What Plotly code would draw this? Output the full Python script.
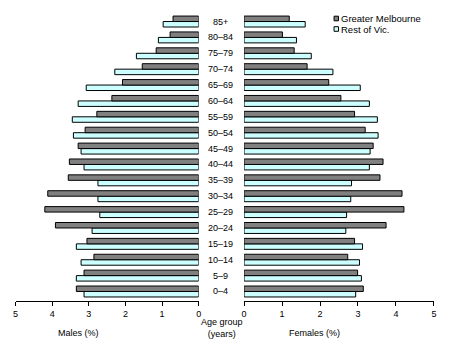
import plotly.graph_objects as go

age_groups = ["0–4", "5–9", "10–14", "15–19", "20–24", "25–29", "30–34", "35–39",
              "40–44", "45–49", "50–54", "55–59", "60–64", "65–69", "70–74",
              "75–79", "80–84", "85+"]

males_melb = [3.34, 3.13, 2.86, 3.05, 3.91, 4.20, 4.12, 3.56, 3.53, 3.29,
              3.10, 2.78, 2.37, 2.08, 1.54, 1.16, 0.78, 0.70]
males_rest = [3.13, 3.34, 3.21, 3.34, 2.91, 2.70, 2.75, 2.75, 3.13, 3.21,
              3.42, 3.45, 3.29, 3.07, 2.29, 1.70, 1.10, 0.97]
females_melb = [3.14, 2.99, 2.73, 2.91, 3.74, 4.21, 4.16, 3.58, 3.66, 3.40,
                3.19, 2.91, 2.55, 2.23, 1.66, 1.32, 1.01, 1.19]
females_rest = [2.94, 3.09, 3.04, 3.12, 2.68, 2.70, 2.81, 2.83, 3.30, 3.32,
                3.53, 3.51, 3.30, 3.06, 2.34, 1.77, 1.38, 1.61]

series_names = ["Greater Melbourne", "Rest of Vic."]
tick_vals = [0, 1, 2, 3, 4, 5]

DARK = "#808080"
LIGHT = "#ccffff"
FONT = "Liberation Sans, Arial, sans-serif"

ypos = list(range(len(age_groups)))

fig = go.Figure()
line = dict(color="black", width=1)

# Rest of Vic first so it sits below Greater Melbourne within each group
fig.add_trace(go.Bar(y=ypos, x=males_rest, orientation="h", marker=dict(color=LIGHT, line=line),
                     name=series_names[1], xaxis="x", yaxis="y", showlegend=False))
fig.add_trace(go.Bar(y=ypos, x=males_melb, orientation="h", marker=dict(color=DARK, line=line),
                     name=series_names[0], xaxis="x", yaxis="y", showlegend=False))
fig.add_trace(go.Bar(y=ypos, x=females_rest, orientation="h", marker=dict(color=LIGHT, line=line),
                     name=series_names[1], xaxis="x2", yaxis="y2", showlegend=False))
fig.add_trace(go.Bar(y=ypos, x=females_melb, orientation="h", marker=dict(color=DARK, line=line),
                     name=series_names[0], xaxis="x2", yaxis="y2", showlegend=False))

W, H = 453, 358
xl = [12.7 / W, 198.3 / W]
xr = [244.3 / W, 436.7 / W]
yd = [1 - 300.7 / H, 1 - 12 / H]
yrange = [-0.58, 17.6]

axis_common = dict(showline=True, linecolor="black", linewidth=1, ticks="outside", ticklen=4,
                   tickcolor="black", tickvals=tick_vals, showgrid=False, zeroline=False,
                   tickfont=dict(family=FONT, size=9, color="black"))

fig.update_layout(
    width=W, height=H,
    margin=dict(l=0, r=0, t=0, b=0),
    paper_bgcolor="white", plot_bgcolor="white",
    barmode="group", bargap=0.31, bargroupgap=0,
    font=dict(family=FONT, size=9, color="black"),
    showlegend=False,
    xaxis=dict(domain=xl, range=[5, 0], anchor="y", **axis_common),
    xaxis2=dict(domain=xr, range=[0, 5], anchor="y2", **axis_common),
    yaxis=dict(domain=yd, range=yrange, visible=False, anchor="x"),
    yaxis2=dict(domain=yd, range=yrange, visible=False, anchor="x2"),
)

anns = []
for i, lab in enumerate(age_groups):
    anns.append(dict(x=220 / W, y=i, xref="paper", yref="y", text=lab, showarrow=False,
                     font=dict(family=FONT, size=9, color="black"), xanchor="center", yanchor="middle"))
anns.append(dict(x=77 / W, y=1 - 333 / H, xref="paper", yref="paper", text="Males (%)",
                 showarrow=False, font=dict(family=FONT, size=9), xanchor="center", yanchor="middle"))
anns.append(dict(x=316 / W, y=1 - 333 / H, xref="paper", yref="paper", text="Females (%)",
                 showarrow=False, font=dict(family=FONT, size=9), xanchor="center", yanchor="middle"))
anns.append(dict(x=222 / W, y=1 - 328 / H, xref="paper", yref="paper", text="Age group<br>(years)",
                 showarrow=False, font=dict(family=FONT, size=9), xanchor="center", yanchor="middle"))

# custom legend (small squares + labels)
shapes = []
legend_rows = [(series_names[0], DARK, 18.5), (series_names[1], LIGHT, 29.0)]
for name, col, yc in legend_rows:
    shapes.append(dict(type="rect", xref="paper", yref="paper",
                       x0=335.5 / W, x1=340 / W, y0=1 - (yc + 2.3) / H, y1=1 - (yc - 2.3) / H,
                       fillcolor=col, line=dict(color="black", width=1)))
    anns.append(dict(x=341.5 / W, y=1 - yc / H, xref="paper", yref="paper", text=name,
                     showarrow=False, font=dict(family=FONT, size=9.5, color="black"),
                     xanchor="left", yanchor="middle", borderpad=0))

fig.update_layout(annotations=anns, shapes=shapes)

fig.write_html("out.html", config={"displayModeBar": False},
               post_script="document.body.style.margin='0';")
